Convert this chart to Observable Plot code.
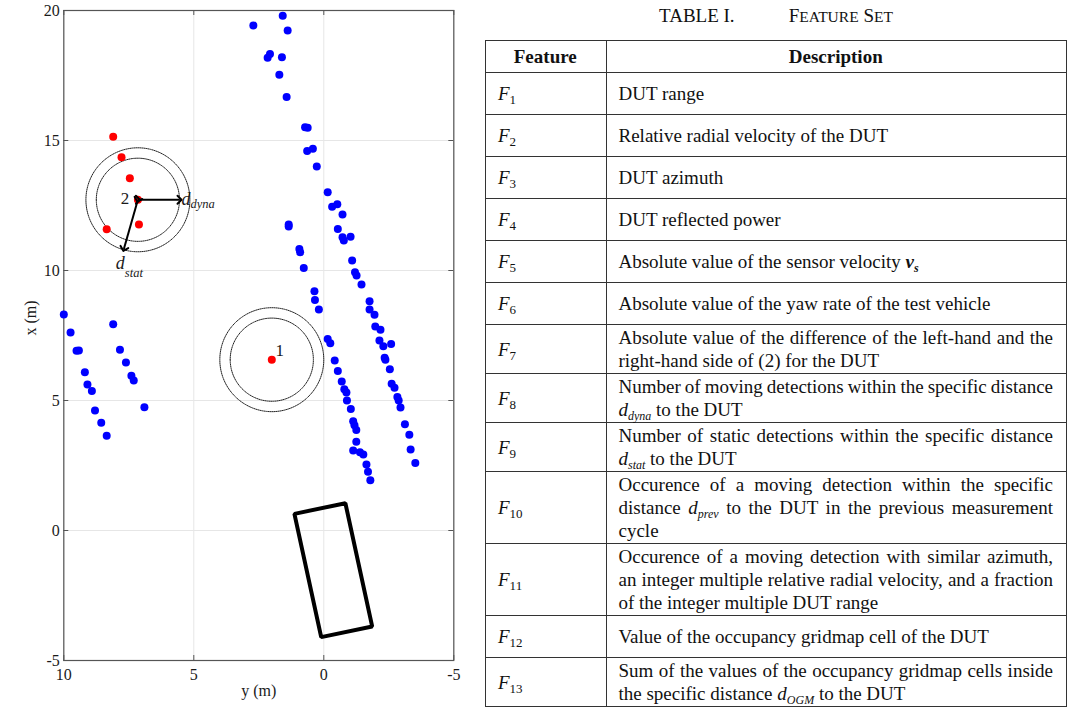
<!DOCTYPE html>
<html>
<head>
<meta charset="utf-8">
<script src="https://cdn.jsdelivr.net/npm/d3@7"></script>
<script src="https://cdn.jsdelivr.net/npm/@observablehq/plot@0.6"></script>
<style>
  html, body { margin: 0; padding: 0; background: #fff; }
  body { width: 1080px; height: 726px; position: relative; overflow: hidden; font-family: "Liberation Serif", "Times New Roman", serif; color: #111; }
  #chart { position: absolute; left: 0; top: 0; }
  #title { position: absolute; left: 485px; top: 4px; width: 582px; text-align: center; font-size: 19px; line-height: 24px; white-space: nowrap; }
  #title .sc { margin-left: 54px; }
  #title .small { font-size: 15.5px; }
  #tbl { position: absolute; left: 485px; top: 40px; width: 582px; border-collapse: collapse; table-layout: fixed; font-size: 19px; line-height: 23px; }
  #tbl td, #tbl th { border: 1.5px solid #333; vertical-align: middle; padding: 1px 13px 1px 12px; }
  #tbl th { font-weight: bold; text-align: center; }
  #tbl th.c1 { width: 94.5px; }
  #tbl tr.head { height: 32px; }
  #tbl tr.row { height: 42px; }
  #tbl td.fid i { font-style: italic; }
  #tbl sub { font-size: 13px; line-height: 0; vertical-align: -4px; }
  #tbl sub.it { font-style: italic; font-size: 12px; }
  #tbl .ln { text-align: left; white-space: nowrap; }
  #tbl .ln.just { text-align: justify; text-align-last: justify; word-spacing: -1.5px; }
</style>
</head>
<body>
<div id="chart"></div>
<div id="title"><span>TABLE I.</span><span class="sc">F<span class="small">EATURE</span> S<span class="small">ET</span></span></div>
<table id="tbl"></table>
<script>
// ---------- chart data ----------
const xTickValues = [10, 5, 0, -5];          // horizontal axis: y (m)
const yTickValues = [-5, 0, 5, 10, 15, 20];  // vertical axis: x (m)

// blue detections (lateral y, longitudinal x)
const blueY = [
  2.71, 1.58, 1.39, 2.07, 2.16, 1.61, 1.71, 1.43, 0.72, 0.62, 0.64, 0.42, 0.27,
  1.35, 1.35, 0.94, 0.91, 0.77, 0.36, 0.34, 0.19, -0.15, -0.25, -0.42, -0.54,
  -0.69, -0.79, -0.87, -0.89, -1.04, -1.13, -1.18, -1.25, -1.25, -1.13, -1.39,
  -1.52, -1.64, -1.70, -1.79,
  -0.15, -0.32, -0.52, -0.72, -0.54, -0.72, -1.03, -0.77, -1.09, -1.20, -1.26,
  -1.45, -1.76, -1.76, -1.95, -1.98, -2.18, -2.14, -2.29, -2.59, -2.34, -2.37,
  -2.54, -2.61, -2.72, -2.83, -2.88, -2.95, -3.12, -3.29, -3.34, -3.52,
  10.0, 9.74, 9.51, 9.42, 9.19, 9.09, 8.92, 8.80, 8.56, 8.35,
  8.10, 7.84, 7.61, 7.40, 7.31, 6.90
];
const blueX = [
  19.42, 19.80, 19.23, 18.33, 18.18, 18.20, 17.53, 16.67, 15.51, 15.49, 14.60, 14.68, 14.00,
  11.77, 11.69, 10.83, 10.70, 10.10, 9.20, 8.87, 8.50, 7.37, 7.20, 6.54, 6.13,
  5.73, 5.43, 5.31, 5.00, 4.67, 4.20, 4.05, 3.87, 3.41, 3.08, 3.01,
  2.92, 2.54, 2.26, 1.93,
  13.01, 12.45, 12.55, 12.15, 11.60, 11.28, 11.30, 11.15, 10.38, 9.93, 9.81,
  9.46, 8.82, 8.50, 8.30, 7.85, 7.72, 7.31, 7.09, 7.17, 6.64, 6.57,
  6.20, 5.64, 5.49, 5.13, 5.00, 4.73, 4.09, 3.68, 3.12, 2.60,
  8.31, 7.62, 6.91, 6.92, 6.09, 5.62, 5.37, 4.62, 4.14, 3.64,
  7.93, 6.95, 6.46, 5.95, 5.77, 4.74
];

// red detections
const redY = [8.10, 7.78, 7.46, 7.15, 8.35, 7.11, 2.00];
const redX = [15.14, 14.36, 13.55, 12.72, 11.59, 11.77, 6.57];

// numbered detections under test and their neighbourhoods
const dutLabels = ["1", "2"];
const dutY = [2.00, 7.15];
const dutX = [6.57, 12.72];
const radii = [1.6, 2.0];           // d_dyna, d_stat

// distance arrows (from DUT 2)
const arrowNames = ["d", "d"];
const arrowSubs = ["dyna", "stat"];
const arrowY2 = [5.55, 7.69];
const arrowX2 = [12.72, 10.83];

// test vehicle outline corners
const carY = [1.13, -0.83, -1.86, 0.10];
const carX = [0.64, 1.05, -3.69, -4.10];

// ---------- table data ----------
const featureNums = [1, 2, 3, 4, 5, 6, 7, 8, 9, 10, 11, 12, 13];
const descLines = [
  ["DUT range"],
  ["Relative radial velocity of the DUT"],
  ["DUT azimuth"],
  ["DUT reflected power"],
  ["Absolute value of the sensor velocity <b><i>v</i><sub class=\"it\">s</sub></b>"],
  ["Absolute value of the yaw rate of the test vehicle"],
  ["Absolute value of the difference of the left-hand and the", "right-hand side of (2) for the DUT"],
  ["Number of moving detections within the specific distance", "<i>d</i><sub class=\"it\">dyna</sub> to the DUT"],
  ["Number of static detections within the specific distance", "<i>d</i><sub class=\"it\">stat</sub> to the DUT"],
  ["Occurence of a moving detection within the specific", "distance <i>d</i><sub class=\"it\">prev</sub> to the DUT in the previous measurement", "cycle"],
  ["Occurence of a moving detection with similar azimuth,", "an integer multiple relative radial velocity, and a fraction", "of the integer multiple DUT range"],
  ["Value of the occupancy gridmap cell of the DUT"],
  ["Sum of the values of the occupancy gridmap cells inside", "the specific distance <i>d</i><sub class=\"it\">OGM</sub> to the DUT"]
];
const headers = ["Feature", "Description"];

// ---------- build chart ----------
const blue = blueY.map((y, i) => ({y, x: blueX[i]}));
const red = redY.map((y, i) => ({y, x: redX[i]}));
const duts = dutLabels.map((label, i) => ({label, y: dutY[i], x: dutX[i]}));
const circles = [];
duts.forEach((d, i) => radii.forEach((r, j) => {
  d3.range(0, 360, 4).forEach(a => {
    const t = a * Math.PI / 180;
    circles.push({id: i + "-" + j, y: d.y + r * Math.cos(t), x: d.x + r * Math.sin(t)});
  });
}));
const arrows = arrowNames.map((n, i) => ({n, s: arrowSubs[i], y1: dutY[1], x1: dutX[1], y2: arrowY2[i], x2: arrowX2[i]}));
const car = carY.map((y, i) => ({y, x: carX[i]}));

const frameW = 390, frameH = 650, tick = 5;
const serif = "Liberation Serif";

const chart = Plot.plot({
  width: 475,
  height: 712,
  marginLeft: 63.3,
  marginRight: 21.7,
  marginTop: 10,
  marginBottom: 52,
  x: {domain: [10, -5]},
  y: {domain: [-5, 20]},
  style: {fontFamily: serif, fontSize: "16px", color: "#1a1a1a", background: "white"},
  marks: [
    Plot.gridX(xTickValues, {stroke: "#e6e6e6", strokeOpacity: 1}),
    Plot.gridY(yTickValues, {stroke: "#e6e6e6", strokeOpacity: 1}),
    Plot.ruleX(xTickValues, {stroke: "#555", insetBottom: frameH - tick}),
    Plot.ruleX(xTickValues, {stroke: "#555", insetTop: frameH - tick}),
    Plot.ruleY(yTickValues, {stroke: "#555", insetRight: frameW - tick}),
    Plot.ruleY(yTickValues, {stroke: "#555", insetLeft: frameW - tick}),
    Plot.frame({stroke: "#555", strokeWidth: 1.2}),
    Plot.axisX(xTickValues, {anchor: "bottom", tickSize: 0, tickPadding: 8, tickFormat: d => String(d), label: null, fontSize: 16}),
    Plot.axisY(yTickValues, {anchor: "left", tickSize: 0, tickPadding: 4, tickFormat: d => String(d), label: null, fontSize: 16}),
    Plot.text(["y (m)"], {text: d => d, frameAnchor: "bottom", dy: 35, fontSize: 16}),
    Plot.text(["x (m)"], {text: d => d, frameAnchor: "left", dx: -33, rotate: -90, fontSize: 16}),
    Plot.line(circles, {x: "y", y: "x", z: "id", curve: "linear-closed", stroke: "#222", strokeWidth: 1, strokeDasharray: "1,1"}),
    Plot.line(car, {x: "y", y: "x", curve: "linear-closed", stroke: "black", strokeWidth: 4, strokeLinejoin: "miter"}),
    Plot.dot(blue, {x: "y", y: "x", r: 4, fill: "#0000ff"}),
    Plot.dot(red, {x: "y", y: "x", r: 4, fill: "#ff0000"}),
    Plot.link(arrows, {x1: "y1", y1: "x1", x2: "y2", y2: "x2", stroke: "black", strokeWidth: 2, markerStart: "arrow", markerEnd: "arrow"}),
    Plot.text(duts.slice(0, 1), {x: "y", y: "x", text: "label", dx: 8, dy: -9, fontSize: 17}),
    Plot.text(duts.slice(1), {x: "y", y: "x", text: "label", dx: -13, dy: -1, fontSize: 17}),
    Plot.text(arrows.slice(0, 1), {x: "y2", y: "x2", text: "n", textAnchor: "start", dx: 2, dy: -1, fontSize: 18, fontStyle: "italic"}),
    Plot.text(arrows.slice(0, 1), {x: "y2", y: "x2", text: "s", textAnchor: "start", dx: 11, dy: 4, fontSize: 12.5, fontStyle: "italic"}),
    Plot.text(arrows.slice(1), {x: "y2", y: "x2", text: "n", textAnchor: "start", dx: -8, dy: 14, fontSize: 18, fontStyle: "italic"}),
    Plot.text(arrows.slice(1), {x: "y2", y: "x2", text: "s", textAnchor: "start", dx: 1, dy: 24, fontSize: 12.5, fontStyle: "italic"})
  ]
});
document.getElementById("chart").appendChild(chart);

// ---------- build table ----------
const tbl = d3.select("#tbl");
const head = tbl.append("tr").attr("class", "head");
headers.forEach((h, i) => head.append("th").attr("class", "c" + (i + 1)).text(h));
featureNums.forEach((n, i) => {
  const tr = tbl.append("tr").attr("class", "row");
  tr.append("td").attr("class", "fid").html(`<i>F</i><sub>${n}</sub>`);
  const td = tr.append("td");
  const lines = descLines[i];
  lines.forEach((l, k) => {
    td.append("div").attr("class", "ln" + (k < lines.length - 1 ? " just" : "")).html(l);
  });
});
</script>
</body>
</html>
